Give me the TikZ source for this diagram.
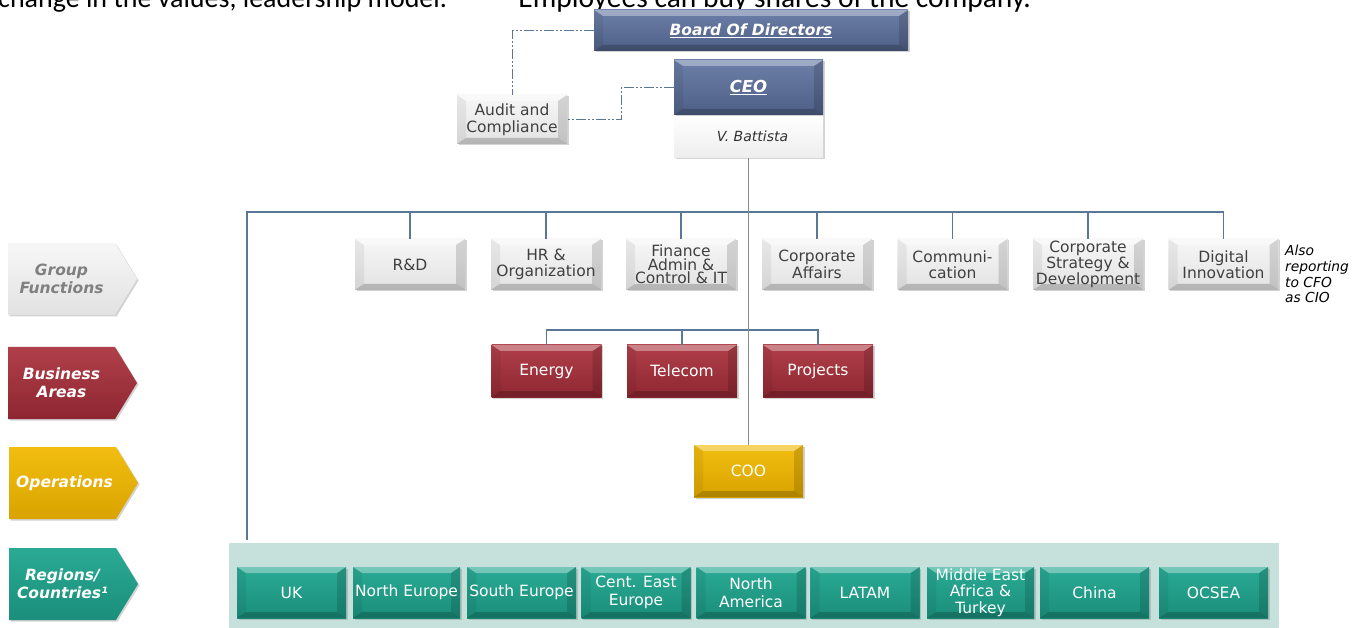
\documentclass[tikz,border=0pt]{standalone}
\usepackage{fontspec}
\setmainfont{DejaVu Sans}
\newfontfamily\calib{Carlito}
\usetikzlibrary{calc,shadows,shapes.symbols}
\definecolor{navyT}{HTML}{6C7FA8}
\definecolor{navyB}{HTML}{4E5F86}
\definecolor{grayT}{HTML}{F7F7F7}
\definecolor{grayB}{HTML}{E2E2E2}
\definecolor{grayTx}{HTML}{404040}
\definecolor{redT}{HTML}{B0404A}
\definecolor{redB}{HTML}{8E2631}
\definecolor{goldT}{HTML}{F2BE10}
\definecolor{goldB}{HTML}{D9A300}
\definecolor{tealT}{HTML}{2AAA94}
\definecolor{tealB}{HTML}{1A8E7B}
\definecolor{panel}{HTML}{C6E0DC}
\definecolor{busc}{HTML}{5A7896}
\definecolor{gline}{HTML}{8C8C8C}
\definecolor{legGray}{HTML}{808080}
\tikzset{
  bev/.style={path picture={
    \path (path picture bounding box.north west) coordinate (@nw)
          (path picture bounding box.south east) coordinate (@se);
    \fill[white,opacity=.35] (@nw) -- (@nw -| @se) -- ($(@nw -| @se)+(-9,6)$) -- ($(@nw)+(9,6)$) -- cycle;
    \fill[black,opacity=.06] (@nw) -- ($(@nw)+(9,6)$) -- ($(@se -| @nw)+(9,-6)$) -- (@se -| @nw) -- cycle;
    \fill[black,opacity=.14] (@nw -| @se) -- ($(@nw -| @se)+(-9,6)$) -- ($(@se)+(-9,-6)$) -- (@se) -- cycle;
    \fill[black,opacity=.2] (@se -| @nw) -- ($(@se -| @nw)+(9,-6)$) -- ($(@se)+(-9,-6)$) -- (@se) -- cycle;
  }},
  shad/.style={drop shadow={shadow xshift=1.5pt,shadow yshift=-1.5pt,opacity=.35}},
  basebox/.style={rectangle, inner sep=0pt, align=center, shad, bev},
  gbox/.style={basebox, minimum width=110pt, minimum height=51pt, top color=grayT, bottom color=grayB,
     text=grayTx, font=\fontsize{15.5}{16.5}\selectfont},
  three/.style={font=\fontsize{15.5}{13.5}\selectfont},
  rbox/.style={basebox, minimum width=110pt, minimum height=52pt, top color=redT, bottom color=redB,
     text=white, font=\fontsize{15.5}{17}\selectfont},
  obox/.style={basebox, minimum width=109pt, minimum height=52pt, top color=goldT, bottom color=goldB,
     text=white, font=\fontsize{15.5}{17}\selectfont},
  cbox/.style={basebox, minimum width=109pt, minimum height=51pt, top color=tealT, bottom color=tealB,
     text=white, font=\fontsize{15.5}{17.5}\selectfont},
  nbox/.style={basebox, top color=navyT, bottom color=navyB, text=white,
     font=\fontsize{15.5}{17}\selectfont\bfseries\itshape},
  legend/.style={signal, signal to=east, signal pointer angle=117, minimum width=129pt,
     minimum height=72pt, inner sep=0pt, shad},
  legtext/.style={font=\fontsize{15.5}{18}\selectfont\bfseries\itshape, align=center},
  dd/.style={busc, line width=1pt, dash pattern=on 10pt off 2pt on 2pt off 2pt on 2pt off 2pt},
  bus/.style={busc, line width=1.1pt},
  vline/.style={gline, line width=1.4pt},
}
\begin{document}
\begin{tikzpicture}[x=1pt,y=-1pt]
\useasboundingbox (0,0) rectangle (1363,628);
% clipped top text
\node[anchor=base west, inner sep=0pt, font=\calib\fontsize{28}{31}\selectfont] (topl) at (-2,8)
  {change in the values, leadership model.};
\node[anchor=base east, inner sep=0pt, font=\calib\fontsize{29.5}{32}\selectfont] (topr) at (1031,8)
  {–\hspace{16pt}Employees can buy shares of the company.};

% region panel
\node[fill=panel, minimum width=1050pt, minimum height=86pt, anchor=north west, inner sep=0pt] (regpanel) at (229,543) {};

% board and CEO
\node[nbox, minimum width=314pt, minimum height=41pt] (board) at (751,30.5) {\underline{Board Of Directors}};
\node[rectangle, minimum width=149pt, minimum height=43pt, top color=white, bottom color=grayB!60,
      shad, text=black!80, font=\fontsize{14}{16}\selectfont\itshape] (ceoname) at (748.5,136.5) {\hspace{8pt}V. Battista};
\node[nbox, minimum width=149pt, minimum height=55pt, font=\fontsize{16.5}{18}\selectfont\bfseries\itshape] (ceo) at (748.5,87.5) {\underline{CEO}};
\node[gbox, minimum height=49pt] (audit) at (512,119.5) {Audit and\\Compliance};

% group functions
\node[gbox] (rd)   at (410,264.5) {R\&D};
\node[gbox] (hr)   at (546,264.5) {HR \&\\Organization};
\node[gbox, three] (fin)  at (681,264.5) {Finance\\Admin \&\\Control \& IT};
\node[gbox] (ca)   at (817,264.5) {Corporate\\Affairs};
\node[gbox] (com)  at (952.5,264.5) {Communi-\\cation};
\node[gbox, three] (csd)  at (1088,264.5) {Corporate\\Strategy \&\\Development};
\node[gbox] (digi) at (1223.5,264.5) {Digital\\Innovation};
\node[anchor=north west, align=left, inner sep=0pt, font=\fontsize{13.8}{15.7}\selectfont\itshape] (also)
  at (1285,245) {Also\\reporting\\to CFO\\as CIO};

% business areas
\node[rbox] (energy) at (546.5,371) {Energy};
\node[rbox] (tel)    at (682,371) {Telecom};
\node[rbox] (proj)   at (818,371) {Projects};

% operations
\node[obox] (coo) at (748.5,471) {COO};

% regions
\node[cbox] (uk)   at (291.5,592.5) {UK};
\node[cbox, minimum width=107pt] (neu)  at (406.5,592.5) {North Europe};
\node[cbox] (seu)  at (521.5,592.5) {South Europe};
\node[cbox] (ceu)  at (636,592.5) {Cent. East\\Europe};
\node[cbox] (nam)  at (751,592.5) {North\\America};
\node[cbox] (lat)  at (865,592.5) {LATAM};
\node[cbox, minimum width=107pt, font=\fontsize{15.5}{16.5}\selectfont] (mea) at (980.5,592.5) {Middle East\\Africa \&\\Turkey};
\node[cbox] (chn)  at (1094.5,592.5) {China};
\node[cbox] (ocs)  at (1213.5,592.5) {OCSEA};

% legends
\node[legend, top color=grayT, bottom color=grayB,
  label={[legtext, text=legGray]center:Group\\Functions}] (lg1) at (61.5,279) {};
\node[legend, top color=redT, bottom color=redB,
  label={[legtext, text=white]center:Business\\Areas}] (lg2) at (61.5,383) {};
\node[legend, top color=goldT, bottom color=goldB,
  label={[legtext, text=white, xshift=2pt]center:Operations}] (lg3) at (62.5,483) {};
\node[legend, top color=tealT, bottom color=tealB,
  label={[legtext, text=white]center:Regions/\\Countries¹}] (lg4) at (62.5,584) {};

% connectors
\draw[dd] (board.west) -| (audit.north);
\draw[dd] (ceo.west) -- ++(-52,0) |- (audit.east);
\coordinate (bl) at (247,212);
\draw[bus] ($(regpanel.north west)+(18,-3)$) -- (bl) -| (digi.north);
\foreach \n in {rd,hr,fin,ca,com,csd} \draw[bus] (\n.north |- bl) -- (\n.north);
\coordinate (bb) at (682,330);
\draw[bus] (energy.north) |- (bb) -| (proj.north);
\draw[bus] (tel.north |- bb) -- (tel.north);
\draw[vline] (ceoname.south) -- (coo.north);
\end{tikzpicture}
\end{document}
